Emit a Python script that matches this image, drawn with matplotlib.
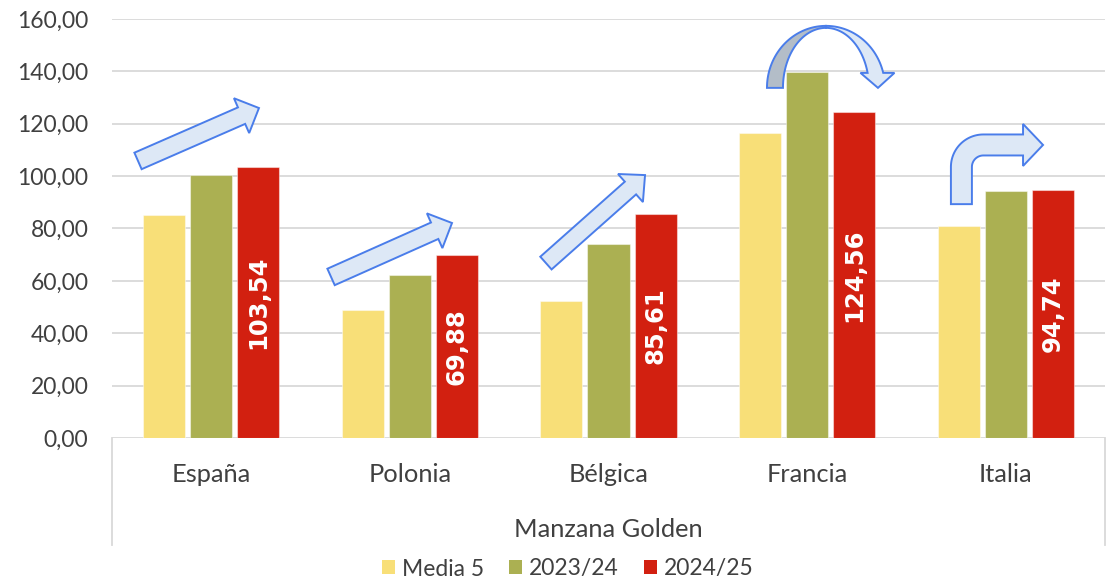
import numpy as np
import matplotlib
matplotlib.use("Agg")
import matplotlib.pyplot as plt
from matplotlib.patches import Polygon, Patch
from matplotlib.ticker import FuncFormatter

# ---- data -------------------------------------------------------------
countries = ["España", "Polonia", "Bélgica", "Francia", "Italia"]
series_names = ["Media 5", "2023/24", "2024/25"]
media_5 = [85.1, 48.9, 52.3, 116.5, 81.0]
campaign_2023_24 = [100.4, 62.2, 74.1, 139.7, 94.3]
campaign_2024_25 = [103.54, 69.88, 85.61, 124.56, 94.74]
group_title = "Manzana Golden"
y_ticks = [0, 20, 40, 60, 80, 100, 120, 140, 160]

# ---- style ------------------------------------------------------------
plt.rcParams["font.family"] = ["Lato", "DejaVu Sans"]
bar_colors = ["#f8df78", "#abb052", "#d22010"]
text_color = "#404040"
grid_color = "#d9d9d9"
arrow_edge = "#4a7dea"
arrow_fill = "#dde8f6"
arrow_shade = "#b3bdc8"

W, H, DPI = 1118, 584, 100
fig = plt.figure(figsize=(W / DPI, H / DPI), dpi=DPI)
fig.patch.set_facecolor("white")
ax = fig.add_axes([112 / W, (H - 438) / H, (1105 - 112) / W, (438 - 19) / H])
ax.set_xlim(-0.5, len(countries) - 0.5)
ax.set_ylim(y_ticks[0], y_ticks[-1])

# ---- bars -------------------------------------------------------------
x = np.arange(len(countries))
bar_w = 0.2115
step = 0.2367
series = [media_5, campaign_2023_24, campaign_2024_25]
for i, (vals, col) in enumerate(zip(series, bar_colors)):
    ax.bar(x + (i - 1) * step, vals, width=bar_w, color=col,
           edgecolor=(1, 1, 1, 0.45), linewidth=0.8, zorder=3)

# value labels inside the 2024/25 bars
for xi, v in zip(x, campaign_2024_25):
    ax.text(xi + step, v / 2, f"{v:.2f}".replace(".", ","), rotation=90,
            ha="center", va="center", color="white", fontsize=17.5,
            fontweight="bold", family="DejaVu Sans", zorder=4)

# ---- axes -------------------------------------------------------------
ax.set_yticks(y_ticks)
ax.yaxis.set_major_formatter(FuncFormatter(lambda v, p: f"{v:.2f}".replace(".", ",")))
ax.tick_params(axis="y", length=0, pad=17, labelsize=16.5, labelcolor=text_color)
ax.set_xticks([])
ax.yaxis.grid(True, color=grid_color, linewidth=1.3)
ax.set_axisbelow(True)
for s in ax.spines.values():
    s.set_visible(False)

# category labels, group label and frame of the category axis
ax_h = 438 - 19
for xi, name in zip(x, countries):
    ax.text(xi, -(482 - 438) / ax_h, name, transform=ax.get_xaxis_transform(),
            ha="center", va="baseline", fontsize=18.3, color=text_color)
ax.text(0.5, -(537 - 438) / ax_h, group_title, transform=ax.transAxes,
        ha="center", va="baseline", fontsize=18.3, color=text_color)
for xa in (0, 1):
    ax.plot([xa, xa], [0, -(545 - 438) / ax_h], transform=ax.transAxes,
            color=grid_color, linewidth=1.3, clip_on=False)

# ---- legend -----------------------------------------------------------
handles = [Patch(facecolor=c, edgecolor="none") for c in bar_colors]
fig.legend(handles, series_names, loc="center", bbox_to_anchor=(567.5 / W, 1 - 569 / H),
           ncol=3, frameon=False, fontsize=16.5, handlelength=0.57, handleheight=0.57,
           handletextpad=0.3, columnspacing=1.1, labelcolor=text_color)

# ---- trend arrows -----------------------------------------------------
fig.canvas.draw()


def to_px(pt):
    return ax.transData.transform(pt)


def to_data(pts):
    return ax.transData.inverted().transform(np.asarray(pts))


def add_shape(pts_px, fc):
    ax.add_patch(Polygon(to_data(pts_px), closed=True, facecolor=fc,
                         edgecolor=arrow_edge, linewidth=1.4, zorder=6,
                         clip_on=False, joinstyle="miter"))


def block_arrow(start, end, tail_w=18, head_w=38, head_len=19):
    p0, p1 = to_px(start), to_px(end)
    d = p1 - p0
    u = d / np.hypot(*d)
    n = np.array([-u[1], u[0]])
    b = p1 - u * head_len
    pts = [p0 + n * tail_w / 2, b + n * tail_w / 2, b + n * head_w / 2, p1,
           b - n * head_w / 2, b - n * tail_w / 2, p0 - n * tail_w / 2]
    add_shape(pts, arrow_fill)


def bent_arrow(leg_bottom, band_y, tip_x, hw=10.5, r=22, head_w=42, head_len=20):
    xb, yb = to_px(leg_bottom)
    yh = to_px((0, band_y))[1]
    xt = to_px((tip_x, 0))[0]
    cx, cy = xb + r, yh - r
    xh = xt - head_len
    t_out = np.linspace(np.pi, np.pi / 2, 30)
    t_in = np.linspace(np.pi / 2, np.pi, 30)
    pts = [(xb - hw, yb)]
    pts += list(zip(cx + (r + hw) * np.cos(t_out), cy + (r + hw) * np.sin(t_out)))
    pts += [(xh, yh + hw), (xh, yh + head_w / 2), (xt, yh),
            (xh, yh - head_w / 2), (xh, yh - hw)]
    pts += list(zip(cx + (r - hw) * np.cos(t_in), cy + (r - hw) * np.sin(t_in)))
    pts += [(xb + hw, yb)]
    add_shape(pts, arrow_fill)


def curved_down_arrow(center, rx_out=59, ry_out=62, rx_in=43, ry_in=60,
                      head_rise=15, head_w=33, tip_dx=52):
    ex, ey = to_px(center)
    # shaded back half of the band
    t1 = np.linspace(np.pi, np.pi / 2, 40)
    t2 = np.linspace(np.pi / 2, np.pi, 40)
    back = list(zip(ex + rx_out * np.cos(t1), ey + ry_out * np.sin(t1)))
    back += list(zip(ex + rx_in * np.cos(t2), ey + ry_in * np.sin(t2)))
    add_shape(back, arrow_shade)
    # front half ending in the arrow head
    a_out = np.arcsin(head_rise / ry_out)
    a_in = np.arcsin(head_rise / ry_in)
    t3 = np.linspace(np.pi / 2, a_out, 40)
    t4 = np.linspace(a_in, np.pi / 2, 40)
    front = list(zip(ex + rx_out * np.cos(t3), ey + ry_out * np.sin(t3)))
    mid = ex + tip_dx
    front += [(mid + head_w / 2, ey + head_rise), (mid, ey),
              (mid - head_w / 2 - 1, ey + head_rise)]
    front += list(zip(ex + rx_in * np.cos(t4), ey + ry_in * np.sin(t4)))
    add_shape(front, arrow_fill)


block_arrow((-0.369, 105.8), (0.240, 126.0))
block_arrow((0.603, 61.5), (1.212, 82.1))
block_arrow((1.685, 66.8), (2.184, 100.4), tail_w=17, head_w=37.5, head_len=19.5)
curved_down_arrow((3.095, 133.7))
bent_arrow((3.777, 89.3), 111.9, 4.188)

fig.savefig("out.png", dpi=DPI, facecolor="white")
